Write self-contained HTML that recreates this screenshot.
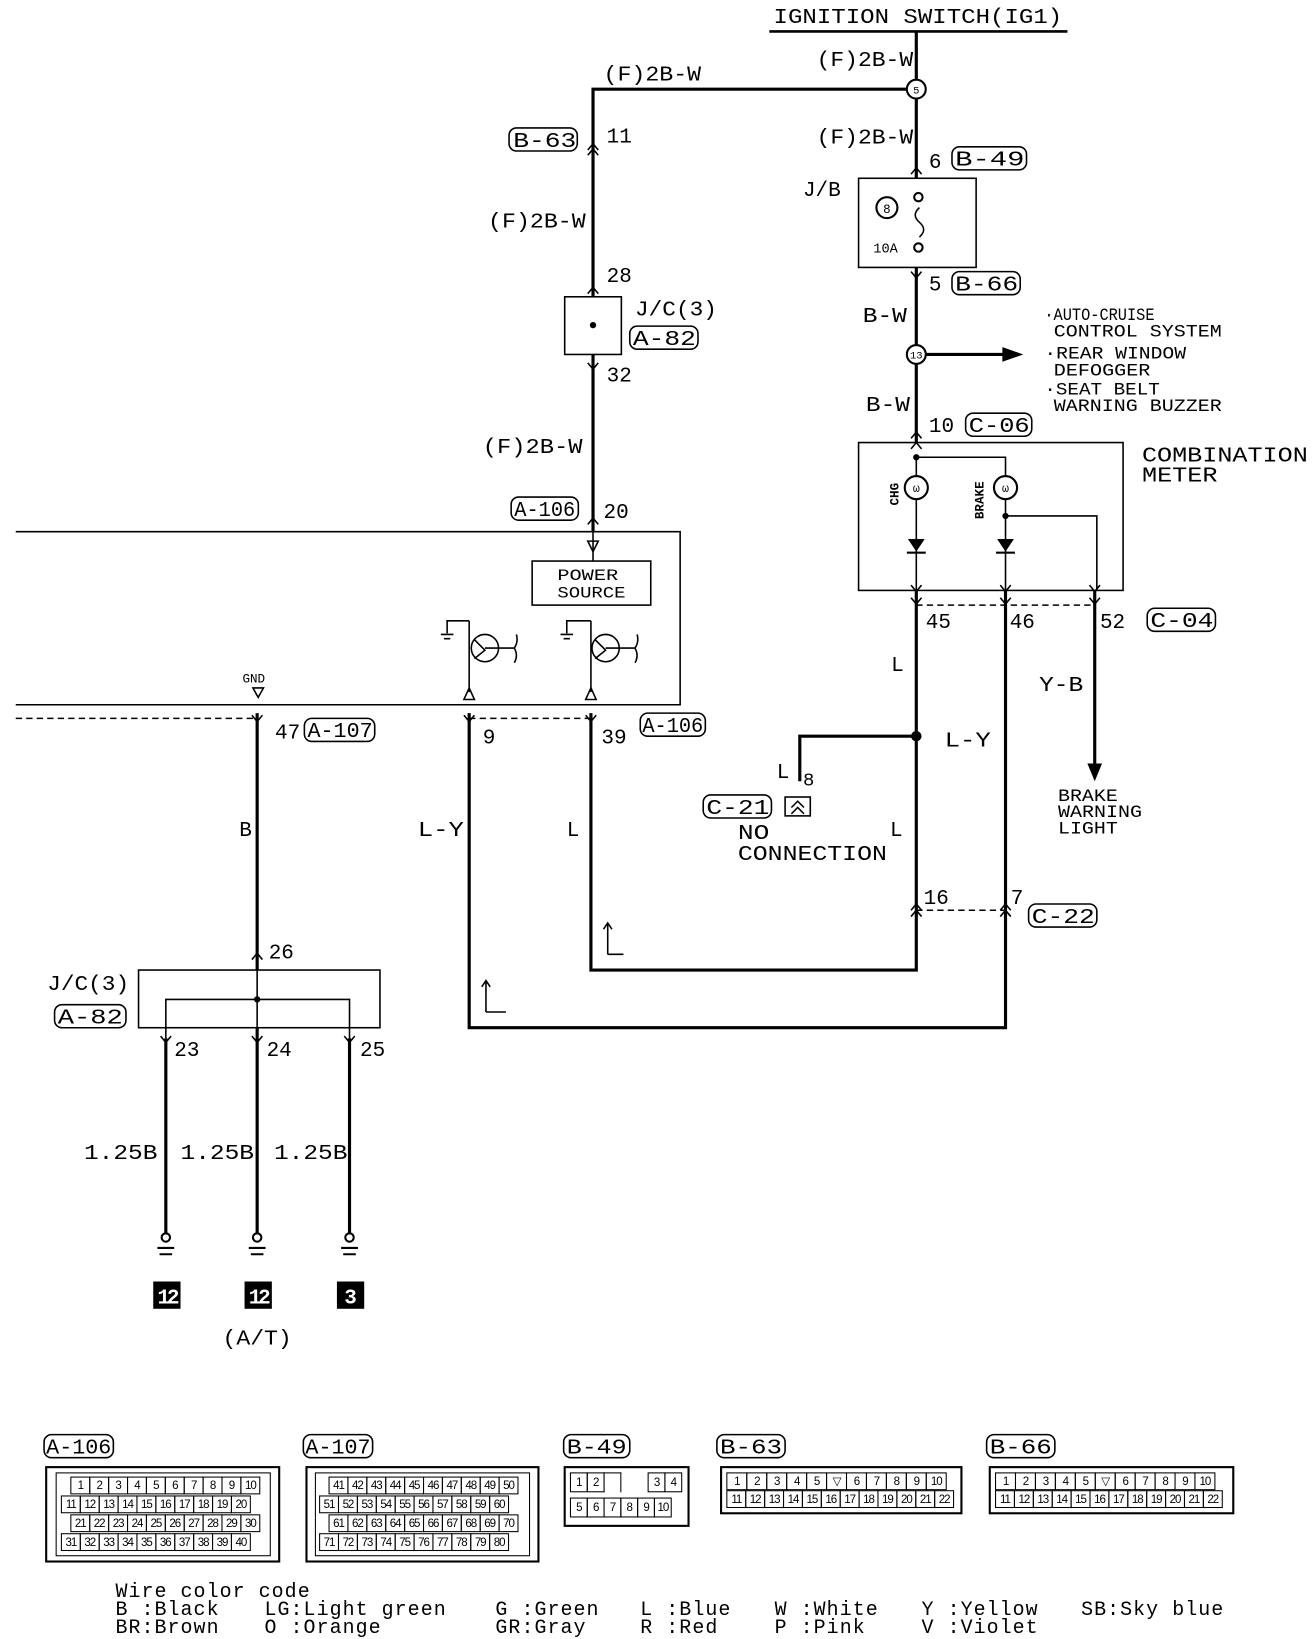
<!DOCTYPE html>
<html><head><meta charset="utf-8"><style>
html,body{margin:0;padding:0;background:#fff;width:1312px;height:1636px;overflow:hidden}
#w{position:absolute;left:0;top:0;width:1250px;height:1560px;transform:scale(1.0496,1.0487);transform-origin:0 0}
svg{position:absolute;left:0;top:0}
text{font-family:"Liberation Mono",monospace;fill:#000}
.box{position:absolute;border:2px solid #000;box-sizing:border-box}
.in{position:absolute;border:1px solid #000;box-sizing:border-box}
.row{position:absolute;display:flex}
.row i{font-style:normal;display:block;width:19px;height:17px;border:1px solid #000;margin-right:-1px;box-sizing:border-box;font:11px "Liberation Sans",sans-serif;text-align:center;line-height:16px;letter-spacing:-1px}
.nb i{width:17px;height:19px;line-height:18px}
.b6 i{width:20px}
.leg{position:absolute;font:19px "Liberation Mono",monospace;line-height:17px;white-space:pre;letter-spacing:1px}
</style></head><body><div id="w">
<svg width="1250" height="1560" viewBox="0 0 1250 1560">
<g fill="none" stroke="#000" stroke-width="3">
<!-- main right wire -->
<path d="M873 30V170M873 255V422"/>
<path d="M873 85H565V283M565 338V507"/>
<path d="M873 563V925H563V680"/>
<path d="M958 563V980H447V680"/>
<path d="M1043 563V735"/>
<path d="M873 702H762V745"/>
<path d="M873 338H960"/>
<path d="M245 680V925M245 980V1178M158 990V1178M333 990V1178"/>
</g>
<polygon points="975,338 955,331 955,345"/>
<polygon points="1043,745 1036,728 1050,728"/>
<circle cx="873" cy="702" r="5"/>
<g fill="none" stroke="#000" stroke-width="2.5">
<path d="M733 30H1017"/>
</g>
<g fill="none" stroke="#000" stroke-width="1.5">
<rect x="538" y="283" width="54" height="55"/>
<rect x="818" y="170" width="112" height="85"/>
<rect x="818" y="422" width="252" height="141"/>
<path d="M15 507H648V672H15"/>
<rect x="507" y="535" width="113" height="42"/>
<rect x="132" y="925" width="230" height="55"/>
<path d="M158 990V953H333V990M245 925V980"/>
<path d="M565 507V535"/>
<path d="M873 436H958V454M873 436V454M873 476V563M958 476V563M958 492H1045V563"/>
<path d="M876 198Q868 205 876 212Q884 219 876 226"/>
<!-- transistors -->
<circle cx="462" cy="618" r="13"/><circle cx="577" cy="618" r="13"/>
<path d="M447 592V660M447 592H426V604M420 605H432M423 609H429"/>
<path d="M563 592V660M563 592H540V604M534 605H546M537 609H543"/>
<path d="M452 610L462 620L452 628M462 618H490Q494 612 492 605M490 618Q494 625 490 632"/>
<path d="M567 610L577 620L567 628M577 618H605Q609 612 607 605M605 618Q609 625 605 632"/>
<polygon points="447,656 442,667 452,667"/><polygon points="563,656 558,667 568,667"/>
<polygon points="565,526 560,516 570,516"/><polygon points="246,665 241,656 251,656"/>
</g>
<g fill="none" stroke="#000" stroke-width="1.5" stroke-dasharray="6,4">
<path d="M15 685H245M447 685H563M873 577H1043M873 868H958"/>
</g>
<!-- connector chevrons -->
<g fill="none" stroke="#000" stroke-width="1.5">
<path d="M560 143L565 137L570 143M560 148L565 142L570 148"/>
<path d="M560 280L565 274L570 280"/>
<path d="M560 346L565 352L570 346"/>
<path d="M560 500L565 494L570 500"/>
<path d="M868 166L873 160L878 166"/>
<path d="M868 259L873 265L878 259"/>
<path d="M868 418L873 412L878 418M868 428L873 422L878 428"/>
<path d="M868 558L873 564L878 558M868 570L873 576L878 570"/>
<path d="M953 558L958 564L963 558M953 570L958 576L963 570"/>
<path d="M1038 558L1043 564L1048 558M1038 570L1043 576L1048 570"/>
<path d="M240 682L245 688L250 682M442 682L447 688L452 682M558 682L563 688L568 682"/>
<path d="M868 868L873 862L878 868M868 874L873 868L878 874M953 868L958 862L963 868M953 874L958 868L963 874"/>
<path d="M240 915L245 909L250 915"/>
<path d="M153 988L158 994L163 988M240 988L245 994L250 988M328 988L333 994L338 988"/>
<path d="M579 910V880M575 886L579 880L583 886M579 910H594"/>
<path d="M463 965V935M459 941L463 935L467 941M463 965H482"/>
<rect x="748" y="760" width="24" height="18"/>
<path d="M754 770L760 764L766 770M754 776L760 770L766 776"/>
</g>
<circle cx="565" cy="310" r="3"/><circle cx="873" cy="436" r="3"/><circle cx="958" cy="492" r="3"/><circle cx="245" cy="953" r="3"/>
<!-- diodes -->
<polygon points="865,514 881,514 873,526"/><rect x="864" y="526" width="18" height="2"/>
<polygon points="950,514 966,514 958,526"/><rect x="949" y="526" width="18" height="2"/>
<!-- bulbs -->
<g fill="#fff" stroke="#000" stroke-width="2">
<circle cx="873" cy="465" r="11"/><circle cx="958" cy="465" r="11"/>
<circle cx="873" cy="85" r="9"/><circle cx="873" cy="338" r="9"/>
<circle cx="845" cy="198" r="10"/>
<circle cx="875" cy="188" r="4"/><circle cx="875" cy="236" r="4"/>
<circle cx="158" cy="1180" r="4"/><circle cx="245" cy="1180" r="4"/><circle cx="333" cy="1180" r="4"/>
</g>
<g stroke="#000" stroke-width="2"><path d="M150 1190H166M152 1196H164M237 1190H253M239 1196H251M325 1190H341M327 1196H339"/></g>
<text x="873" y="89" font-size="10" text-anchor="middle">5</text>
<text x="873" y="342" font-size="10" text-anchor="middle">13</text>
<text x="845" y="203" font-size="12" text-anchor="middle">8</text>
<text x="873" y="469" font-size="11" text-anchor="middle">ω</text><text x="958" y="469" font-size="11" text-anchor="middle">ω</text>
<text x="832" y="241" font-size="13">10A</text>
<text x="856" y="482" font-size="12" font-weight="bold" transform="rotate(-90 856 482)">CHG</text>
<text x="937" y="495" font-size="12" font-weight="bold" transform="rotate(-90 937 495)">BRAKE</text>
<!-- ground boxes -->
<rect x="146" y="1222" width="26" height="26"/><rect x="233" y="1222" width="26" height="26"/><rect x="321" y="1222" width="26" height="26"/>
<g font-size="20" font-weight="bold" text-anchor="middle" style="fill:#fff"><text x="159" y="1243" style="fill:#fff" letter-spacing="-3">12</text><text x="246" y="1243" style="fill:#fff" letter-spacing="-3">12</text><text x="334" y="1243" style="fill:#fff">3</text></g>
<!-- label boxes -->
<g fill="none" stroke="#000" stroke-width="1.5">
<rect x="485" y="122" width="65" height="22" rx="7"/><rect x="907" y="140" width="71" height="22" rx="7"/>
<rect x="907" y="259" width="65" height="22" rx="7"/><rect x="600" y="311" width="65" height="22" rx="7"/>
<rect x="920" y="394" width="63" height="22" rx="7"/><rect x="487" y="474" width="64" height="22" rx="7"/>
<rect x="290" y="685" width="67" height="22" rx="7"/><rect x="610" y="680" width="62" height="22" rx="7"/>
<rect x="1093" y="580" width="65" height="22" rx="7"/><rect x="670" y="758" width="65" height="22" rx="7"/>
<rect x="980" y="862" width="65" height="22" rx="7"/><rect x="52" y="958" width="68" height="22" rx="7"/>
<rect x="42" y="1368" width="66" height="22" rx="7"/><rect x="289" y="1368" width="66" height="22" rx="7"/>
<rect x="537" y="1368" width="63" height="22" rx="7"/><rect x="683" y="1368" width="65" height="22" rx="7"/>
<rect x="940" y="1368" width="65" height="22" rx="7"/>
</g>
<g font-size="20">
<text x="737" y="22" textLength="275" lengthAdjust="spacingAndGlyphs">IGNITION SWITCH(IG1)</text>
<text x="778" y="63" textLength="92" lengthAdjust="spacingAndGlyphs">(F)2B-W</text>
<text x="575" y="77" textLength="93" lengthAdjust="spacingAndGlyphs">(F)2B-W</text>
<text x="778" y="137" textLength="92" lengthAdjust="spacingAndGlyphs">(F)2B-W</text>
<text x="465" y="217" textLength="93" lengthAdjust="spacingAndGlyphs">(F)2B-W</text>
<text x="460" y="432" textLength="95" lengthAdjust="spacingAndGlyphs">(F)2B-W</text>
<text x="489" y="140" textLength="60" lengthAdjust="spacingAndGlyphs">B-63</text>
<text x="578" y="136">11</text>
<text x="885" y="160">6</text><text x="910" y="158" textLength="66" lengthAdjust="spacingAndGlyphs">B-49</text>
<text x="765" y="187">J/B</text>
<text x="885" y="277">5</text><text x="910" y="277" textLength="60" lengthAdjust="spacingAndGlyphs">B-66</text>
<text x="578" y="269">28</text><text x="578" y="364">32</text>
<text x="605" y="301" textLength="78" lengthAdjust="spacingAndGlyphs">J/C(3)</text>
<text x="603" y="329" textLength="60" lengthAdjust="spacingAndGlyphs">A-82</text>
<text x="822" y="307" textLength="42" lengthAdjust="spacingAndGlyphs">B-W</text>
<text x="825" y="392" textLength="42" lengthAdjust="spacingAndGlyphs">B-W</text>
<text x="885" y="412">10</text><text x="923" y="412" textLength="58" lengthAdjust="spacingAndGlyphs">C-06</text>
<text x="490" y="492" textLength="58" lengthAdjust="spacingAndGlyphs">A-106</text><text x="575" y="494">20</text>
<text x="1088" y="440" textLength="158" lengthAdjust="spacingAndGlyphs">COMBINATION</text>
<text x="1088" y="459" textLength="72" lengthAdjust="spacingAndGlyphs">METER</text>
<text x="882" y="599">45</text><text x="962" y="599">46</text><text x="1048" y="599">52</text>
<text x="1096" y="598" textLength="60" lengthAdjust="spacingAndGlyphs">C-04</text>
<text x="849" y="640">L</text><text x="990" y="659" textLength="42" lengthAdjust="spacingAndGlyphs">Y-B</text>
<text x="900" y="712" textLength="44" lengthAdjust="spacingAndGlyphs">L-Y</text>
<text x="740" y="742">L</text><text x="765" y="749" font-size="18">8</text>
<text x="673" y="776" textLength="60" lengthAdjust="spacingAndGlyphs">C-21</text>
<text x="703" y="800" textLength="30" lengthAdjust="spacingAndGlyphs">NO</text>
<text x="703" y="820" textLength="142" lengthAdjust="spacingAndGlyphs">CONNECTION</text>
<text x="848" y="797">L</text>
<text x="880" y="862">16</text><text x="963" y="862">7</text>
<text x="983" y="880" textLength="60" lengthAdjust="spacingAndGlyphs">C-22</text>
<text x="262" y="704">47</text><text x="293" y="703" textLength="62" lengthAdjust="spacingAndGlyphs">A-107</text>
<text x="460" y="709">9</text><text x="573" y="709">39</text>
<text x="612" y="698" textLength="58" lengthAdjust="spacingAndGlyphs">A-106</text>
<text x="228" y="797">B</text>
<text x="398" y="797" textLength="44" lengthAdjust="spacingAndGlyphs">L-Y</text>
<text x="540" y="797">L</text>
<text x="256" y="914">26</text>
<text x="45" y="944" textLength="78" lengthAdjust="spacingAndGlyphs">J/C(3)</text>
<text x="55" y="976" textLength="62" lengthAdjust="spacingAndGlyphs">A-82</text>
<text x="166" y="1007">23</text><text x="254" y="1007">24</text><text x="343" y="1007">25</text>
<text x="80" y="1105" textLength="70" lengthAdjust="spacingAndGlyphs">1.25B</text>
<text x="172" y="1105" textLength="70" lengthAdjust="spacingAndGlyphs">1.25B</text>
<text x="261" y="1105" textLength="70" lengthAdjust="spacingAndGlyphs">1.25B</text>
<text x="212" y="1282" textLength="66" lengthAdjust="spacingAndGlyphs">(A/T)</text>
<text x="44" y="1386" textLength="62" lengthAdjust="spacingAndGlyphs">A-106</text>
<text x="291" y="1386" textLength="62" lengthAdjust="spacingAndGlyphs">A-107</text>
<text x="540" y="1386" textLength="57" lengthAdjust="spacingAndGlyphs">B-49</text>
<text x="686" y="1386" textLength="59" lengthAdjust="spacingAndGlyphs">B-63</text>
<text x="943" y="1386" textLength="59" lengthAdjust="spacingAndGlyphs">B-66</text>
</g>
<g font-size="17">
<text x="995" y="305" textLength="105" lengthAdjust="spacingAndGlyphs">·AUTO-CRUISE</text>
<text x="1004" y="321" textLength="160" lengthAdjust="spacingAndGlyphs">CONTROL SYSTEM</text>
<text x="995" y="342" textLength="135" lengthAdjust="spacingAndGlyphs">·REAR WINDOW</text>
<text x="1004" y="358" textLength="92" lengthAdjust="spacingAndGlyphs">DEFOGGER</text>
<text x="995" y="376" textLength="110" lengthAdjust="spacingAndGlyphs">·SEAT BELT</text>
<text x="1004" y="392" textLength="160" lengthAdjust="spacingAndGlyphs">WARNING BUZZER</text>
<text x="1008" y="764" textLength="57" lengthAdjust="spacingAndGlyphs">BRAKE</text>
<text x="1008" y="779" textLength="80" lengthAdjust="spacingAndGlyphs">WARNING</text>
<text x="1008" y="795" textLength="57" lengthAdjust="spacingAndGlyphs">LIGHT</text>
<text x="231" y="651" font-size="12">GND</text>
<text x="531" y="553" font-size="15" textLength="58" lengthAdjust="spacingAndGlyphs">POWER</text>
<text x="531" y="570" font-size="15" textLength="65" lengthAdjust="spacingAndGlyphs">SOURCE</text>
</g>
</svg>
<!-- connectors -->
<div class="box" style="left:43px;top:1398px;width:224px;height:92px"></div>
<div class="in" style="left:53px;top:1404px;width:205px;height:80px"></div>
<div class="row" style="left:67px;top:1408px"><i>1</i><i>2</i><i>3</i><i>4</i><i>5</i><i>6</i><i>7</i><i>8</i><i>9</i><i>10</i></div>
<div class="row" style="left:58px;top:1426px"><i>11</i><i>12</i><i>13</i><i>14</i><i>15</i><i>16</i><i>17</i><i>18</i><i>19</i><i>20</i></div>
<div class="row" style="left:67px;top:1444px"><i>21</i><i>22</i><i>23</i><i>24</i><i>25</i><i>26</i><i>27</i><i>28</i><i>29</i><i>30</i></div>
<div class="row" style="left:58px;top:1462px"><i>31</i><i>32</i><i>33</i><i>34</i><i>35</i><i>36</i><i>37</i><i>38</i><i>39</i><i>40</i></div>
<div class="box" style="left:291px;top:1398px;width:223px;height:92px"></div>
<div class="in" style="left:300px;top:1404px;width:205px;height:80px"></div>
<div class="row" style="left:313px;top:1408px"><i>41</i><i>42</i><i>43</i><i>44</i><i>45</i><i>46</i><i>47</i><i>48</i><i>49</i><i>50</i></div>
<div class="row" style="left:304px;top:1426px"><i>51</i><i>52</i><i>53</i><i>54</i><i>55</i><i>56</i><i>57</i><i>58</i><i>59</i><i>60</i></div>
<div class="row" style="left:313px;top:1444px"><i>61</i><i>62</i><i>63</i><i>64</i><i>65</i><i>66</i><i>67</i><i>68</i><i>69</i><i>70</i></div>
<div class="row" style="left:304px;top:1462px"><i>71</i><i>72</i><i>73</i><i>74</i><i>75</i><i>76</i><i>77</i><i>78</i><i>79</i><i>80</i></div>
<div class="box" style="left:537px;top:1398px;width:120px;height:58px"></div>
<div class="row nb" style="left:543px;top:1404px"><i>1</i><i>2</i><i style="border-bottom:none"></i></div>
<div class="row nb" style="left:617px;top:1404px"><i>3</i><i>4</i></div>
<div class="row nb" style="left:543px;top:1428px"><i>5</i><i>6</i><i>7</i><i>8</i><i>9</i><i>10</i></div>
<div class="box" style="left:686px;top:1398px;width:231px;height:46px"></div>
<div class="row b6" style="left:692px;top:1404px"><i>1</i><i>2</i><i>3</i><i>4</i><i>5</i><i>▽</i><i>6</i><i>7</i><i>8</i><i>9</i><i>10</i></div>
<div class="row" style="left:692px;top:1421px"><i>11</i><i>12</i><i>13</i><i>14</i><i>15</i><i>16</i><i>17</i><i>18</i><i>19</i><i>20</i><i>21</i><i>22</i></div>
<div class="box" style="left:942px;top:1398px;width:234px;height:46px"></div>
<div class="row b6" style="left:948px;top:1404px"><i>1</i><i>2</i><i>3</i><i>4</i><i>5</i><i>▽</i><i>6</i><i>7</i><i>8</i><i>9</i><i>10</i></div>
<div class="row" style="left:948px;top:1421px"><i>11</i><i>12</i><i>13</i><i>14</i><i>15</i><i>16</i><i>17</i><i>18</i><i>19</i><i>20</i><i>21</i><i>22</i></div>
<!-- legend -->
<div class="leg" style="left:110px;top:1510px">Wire color code
B :Black
BR:Brown</div>
<div class="leg" style="left:252px;top:1527px">LG:Light green
O :Orange</div>
<div class="leg" style="left:472px;top:1527px">G :Green
GR:Gray</div>
<div class="leg" style="left:610px;top:1527px">L :Blue
R :Red</div>
<div class="leg" style="left:738px;top:1527px">W :White
P :Pink</div>
<div class="leg" style="left:878px;top:1527px">Y :Yellow
V :Violet</div>
<div class="leg" style="left:1030px;top:1527px">SB:Sky blue</div>
</div></body></html>
